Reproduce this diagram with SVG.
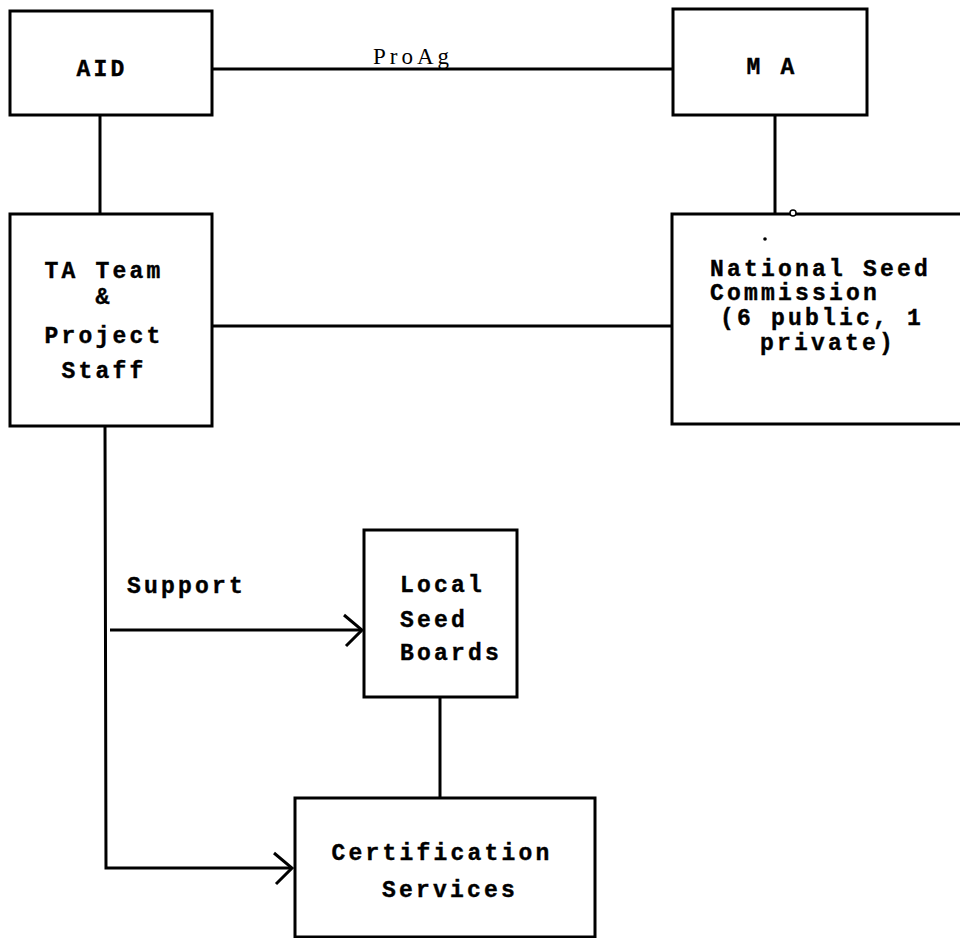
<svg xmlns="http://www.w3.org/2000/svg" width="960" height="938" viewBox="0 0 960 938">
<style>
.box{fill:#fff;stroke:#000;stroke-width:3}
.ln{fill:none;stroke:#000;stroke-width:3}
.t{font-family:"Liberation Mono","DejaVu Sans Mono",monospace;font-weight:bold;font-size:23px;letter-spacing:3.2px;fill:#000;stroke:#000;stroke-width:0.4}
.m{text-anchor:middle}
.lbl{font-family:"Liberation Serif","DejaVu Serif",serif;font-size:23px;letter-spacing:4px;fill:#000}
</style>
<defs>
<marker id="arr" markerWidth="24" markerHeight="36" refX="20" refY="18" orient="auto" markerUnits="userSpaceOnUse">
<path d="M2,3 L20,18 L4,34" fill="none" stroke="#000" stroke-width="3"/>
</marker>
</defs>
<g id="connectors">
<line class="ln" x1="212" y1="69" x2="673" y2="69"/>
<line class="ln" x1="100" y1="115" x2="100" y2="214"/>
<line class="ln" x1="775" y1="115" x2="775" y2="214"/>
<line class="ln" x1="212" y1="326" x2="672" y2="326"/>
<polyline class="ln" points="105,426 106,868 292,868" marker-end="url(#arr)"/>
<line class="ln" x1="110" y1="630" x2="362" y2="630" marker-end="url(#arr)"/>
<line class="ln" x1="440" y1="697" x2="440" y2="797"/>
<text class="lbl" x="373" y="64">ProAg</text>
<text class="t" x="127" y="593">Support</text>
</g>
<g id="aid">
<rect class="box" x="10" y="11" width="202" height="104"/>
<text class="t m" x="102" y="76">AID</text>
</g>
<g id="ma">
<rect class="box" x="673" y="9" width="194" height="106"/>
<text class="t m" x="772" y="74">M A</text>
</g>
<g id="ta-team">
<rect class="box" x="10" y="214" width="202" height="212"/>
<text class="t m" x="104" y="278">TA Team</text>
<text class="t m" x="104" y="304">&amp;</text>
<text class="t m" x="104" y="343">Project</text>
<text class="t m" x="104" y="378">Staff</text>
</g>
<g id="nsc">
<rect class="box" x="672" y="214" width="300" height="210"/>
<circle cx="793" cy="213" r="3" fill="#fff" stroke="#000" stroke-width="1.5"/>
<circle cx="765" cy="239" r="1.8" fill="#000"/>
<text class="t" x="710" y="276">National Seed</text>
<text class="t" x="710" y="300">Commission</text>
<text class="t" x="720" y="325">(6 public, 1</text>
<text class="t" x="760" y="350">private)</text>
</g>
<g id="lsb">
<rect class="box" x="364" y="530" width="153" height="167"/>
<text class="t" x="400" y="592">Local</text>
<text class="t" x="400" y="627">Seed</text>
<text class="t" x="400" y="660">Boards</text>
</g>
<g id="cert">
<rect class="box" x="295" y="798" width="300" height="139"/>
<text class="t m" x="442" y="860">Certification</text>
<text class="t m" x="450" y="897">Services</text>
</g>
</svg>
